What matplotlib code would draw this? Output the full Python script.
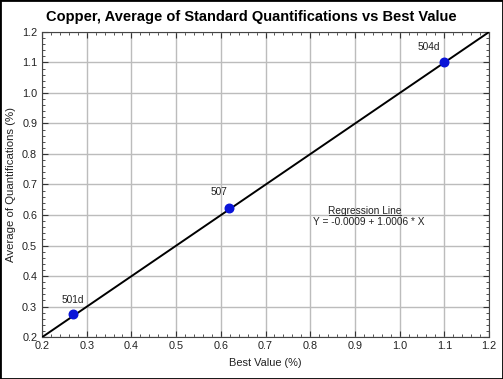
import matplotlib
matplotlib.use("Agg")
import matplotlib.pyplot as plt
import numpy as np
from matplotlib.ticker import MultipleLocator
from matplotlib.patches import Rectangle

plt.rcParams['font.family'] = ['Liberation Sans', 'DejaVu Sans']

labels = ["501d", "507", "504d"]
best_values = [0.269, 0.618, 1.099]
avg_quant = [0.274, 0.624, 1.101]
intercept = -0.0009
slope = 1.0006

fig = plt.figure(figsize=(5.03, 3.79), dpi=100)
fig.patch.set_facecolor('white')
ax = fig.add_axes([0.0835, 0.1108, 0.8887, 0.8048])

ax.set_xlim(0.2, 1.2)
ax.set_ylim(0.2, 1.2)
ax.xaxis.set_minor_locator(MultipleLocator(0.02))
ax.yaxis.set_minor_locator(MultipleLocator(0.02))
xt = np.arange(0.2, 1.2001, 0.1)
ax.set_xticks(xt)
ax.set_xticklabels([f"{v:.1f}" for v in xt])
ax.set_yticks(xt)
ax.set_yticklabels([f"{v:.1f}" for v in xt])
ax.tick_params(which='both', direction='in', top=True, right=True, labelsize=7.8, colors='#333333', labelcolor='#222222')
ax.tick_params(which='major', length=4, width=0.8)
ax.tick_params(which='minor', length=2, width=0.6)
ax.tick_params(axis='x', pad=3)
ax.grid(True, which='major', color='#bcbcbc', linewidth=1.0)
for s in ax.spines.values():
    s.set_color('#444444')
    s.set_linewidth(0.8)

xl = np.array([0.2, 1.2])
ax.plot(xl, intercept + slope * xl, color='black', linewidth=1.4, zorder=3)
ax.scatter(best_values, avg_quant, s=38, color='#0a14d8', zorder=4)

offsets = [(0, 7), (-7, 8), (-11, 7)]
for lab, x, y, off in zip(labels, best_values, avg_quant, offsets):
    ax.annotate(lab, (x, y), xytext=off, textcoords='offset points', ha='center', va='bottom',
                fontsize=7.3, color='#222222')

ax.text(0.923, 0.613, "Regression Line", fontsize=7.3, ha='center', va='center', color='#222222')
ax.plot([0.843, 1.002], [0.599, 0.599], color='#222222', linewidth=0.6)
ax.text(0.93, 0.577, f"Y = {intercept:.4f} + {slope:.4f} * X", fontsize=7.3, ha='center', va='center', color='#222222')

fig.text(0.5, 0.955, "Copper, Average of Standard Quantifications vs Best Value", fontsize=10.5,
         fontweight='bold', ha='center', va='center')
ax.set_xlabel("Best Value (%)", fontsize=7.9, color='#222222', labelpad=5)
ax.set_ylabel("Average of Quantifications (%)", fontsize=8.2, color='#222222', labelpad=4)

fig.patches.append(Rectangle((0, 0), 1, 1, transform=fig.transFigure, fill=False,
                             edgecolor='black', linewidth=2, zorder=10))

fig.savefig("out.png", dpi=100)
